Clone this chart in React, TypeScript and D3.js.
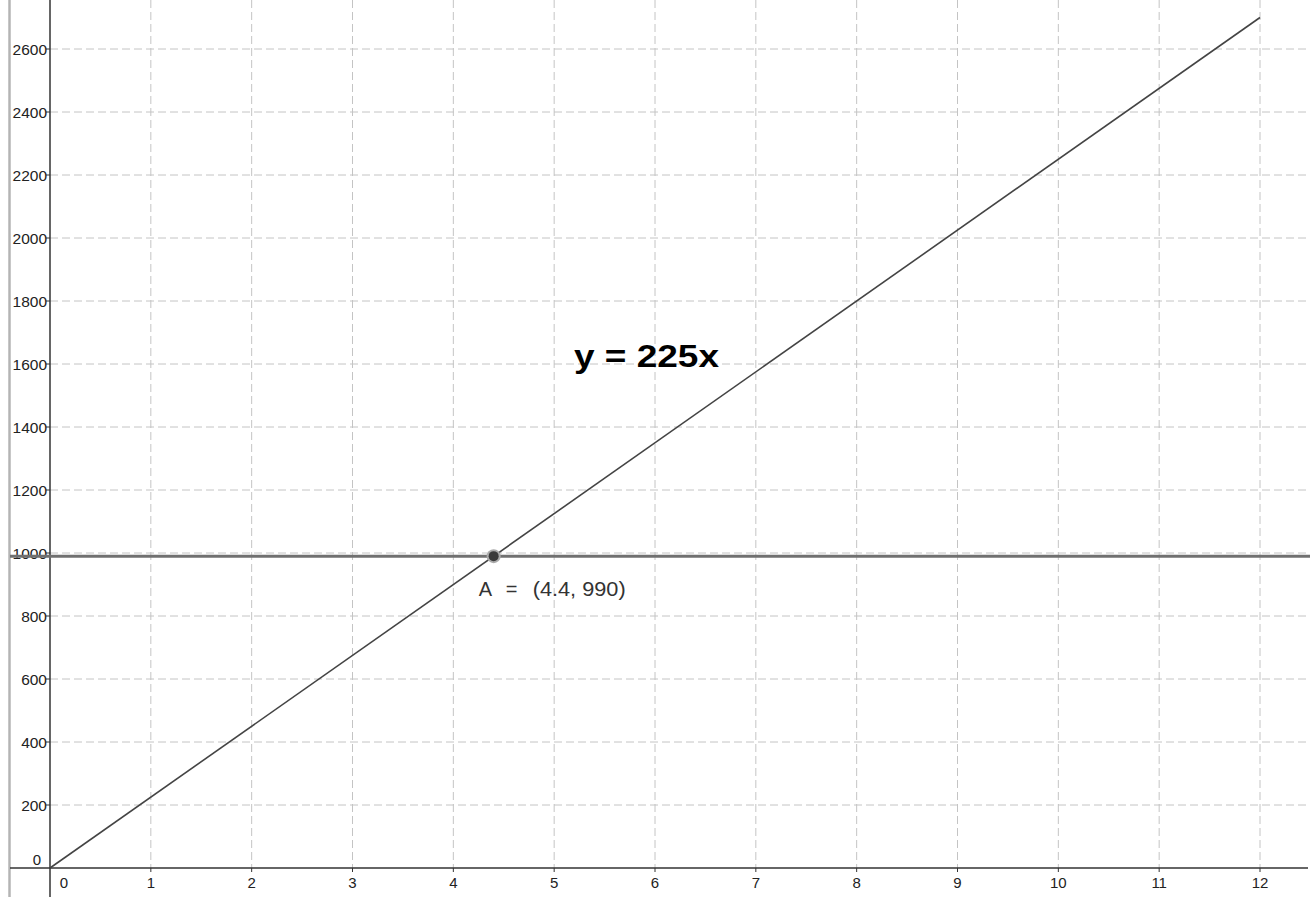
import React from "react";
import * as d3 from "d3";

const W = 1313;
const H = 897;

const xTicks = [0, 1, 2, 3, 4, 5, 6, 7, 8, 9, 10, 11, 12];
const yTicks = [0, 200, 400, 600, 800, 1000, 1200, 1400, 1600, 1800, 2000, 2200, 2400, 2600];
const lineXs = [0, 12];
const lineYs = [0, 2700];
const hLineValue = 990;
const pointA = { name: "A", x: 4.4, y: 990 };
const equationLabel = "y = 225x";

export default function App() {
  const x = d3.scaleLinear().domain([0, 12]).range([50, 1260]);
  const y = d3.scaleLinear().domain([0, 2600]).range([868, 49]);
  const x0 = x(0);
  const y0 = y(0);
  const linePts: [number, number][] = lineXs.map((v, i) => [x(v), y(lineYs[i])]);
  const lineGen = d3.line();
  const font = "'Liberation Sans', Arial, sans-serif";
  const ax = x(pointA.x);
  const ay = y(pointA.y);
  return (
    <svg width={W} height={H} style={{ position: "absolute", left: 0, top: 0, background: "#fff" }}>
      {/* grid */}
      {xTicks.filter((t) => t !== 0).map((t) => (
        <line key={"gx" + t} x1={x(t)} x2={x(t)} y1={0} y2={y0} stroke="#c4c4c4" strokeWidth={1} strokeDasharray="8,4" />
      ))}
      {yTicks.filter((t) => t !== 0).map((t) => (
        <line key={"gy" + t} x1={x0} x2={1310} y1={y(t)} y2={y(t)} stroke="#c4c4c4" strokeWidth={1} strokeDasharray="8,4" />
      ))}
      {/* left frame line */}
      <line x1={9.5} x2={9.5} y1={0} y2={H} stroke="#b4b4b4" strokeWidth={2.5} />
      {/* axes */}
      <line x1={10} x2={1308} y1={y0} y2={y0} stroke="#333" strokeWidth={1.5} />
      <line x1={x0} x2={x0} y1={0} y2={H} stroke="#333" strokeWidth={1.5} />
      {xTicks.filter((t) => t !== 0).map((t) => (
        <g key={"xt" + t}>
          <line x1={x(t)} x2={x(t)} y1={y0} y2={y0 + 4} stroke="#333" strokeWidth={1} />
          <text x={x(t)} y={y0 + 20} textAnchor="middle" fontFamily={font} fontSize={15} fill="#222">{t}</text>
        </g>
      ))}
      <text x={x0 + 14} y={y0 + 20} textAnchor="middle" fontFamily={font} fontSize={15} fill="#222">0</text>
      {yTicks.filter((t) => t !== 0).map((t) => (
        <g key={"yt" + t}>
          <line x1={x0 - 4} x2={x0} y1={y(t)} y2={y(t)} stroke="#333" strokeWidth={1} />
          <text x={x0 - 3} y={y(t) + 5.5} textAnchor="end" fontFamily={font} fontSize={15.5} fill="#222">{t}</text>
        </g>
      ))}
      <text x={x0 - 9} y={y0 - 3} textAnchor="end" fontFamily={font} fontSize={15} fill="#222">0</text>
      {/* horizontal line */}
      <line x1={10} x2={1310} y1={ay} y2={ay} stroke="#707070" strokeWidth={3} />
      {/* function line */}
      <path d={lineGen(linePts) || ""} fill="none" stroke="#444" strokeWidth={1.6} />
      {/* point A */}
      <circle cx={ax} cy={ay} r={7} fill="#aaa" />
      <circle cx={ax} cy={ay} r={5} fill="#3a3a3a" />
      <text x={ax - 15} y={ay + 40} fontFamily={font} fontSize={20} fill="#333">{pointA.name}</text>
      <text x={ax + 12} y={ay + 40} fontFamily={font} fontSize={20} fill="#333">=</text>
      <text x={ax + 39} y={ay + 40} fontFamily={font} fontSize={20} fill="#333" textLength={93} lengthAdjust="spacingAndGlyphs">
        {`(${pointA.x}, ${pointA.y})`}
      </text>
      <text x={574} y={367} fontFamily={font} fontSize={31} fontWeight="bold" fill="#000" textLength={145} lengthAdjust="spacingAndGlyphs">{equationLabel}</text>
    </svg>
  );
}
